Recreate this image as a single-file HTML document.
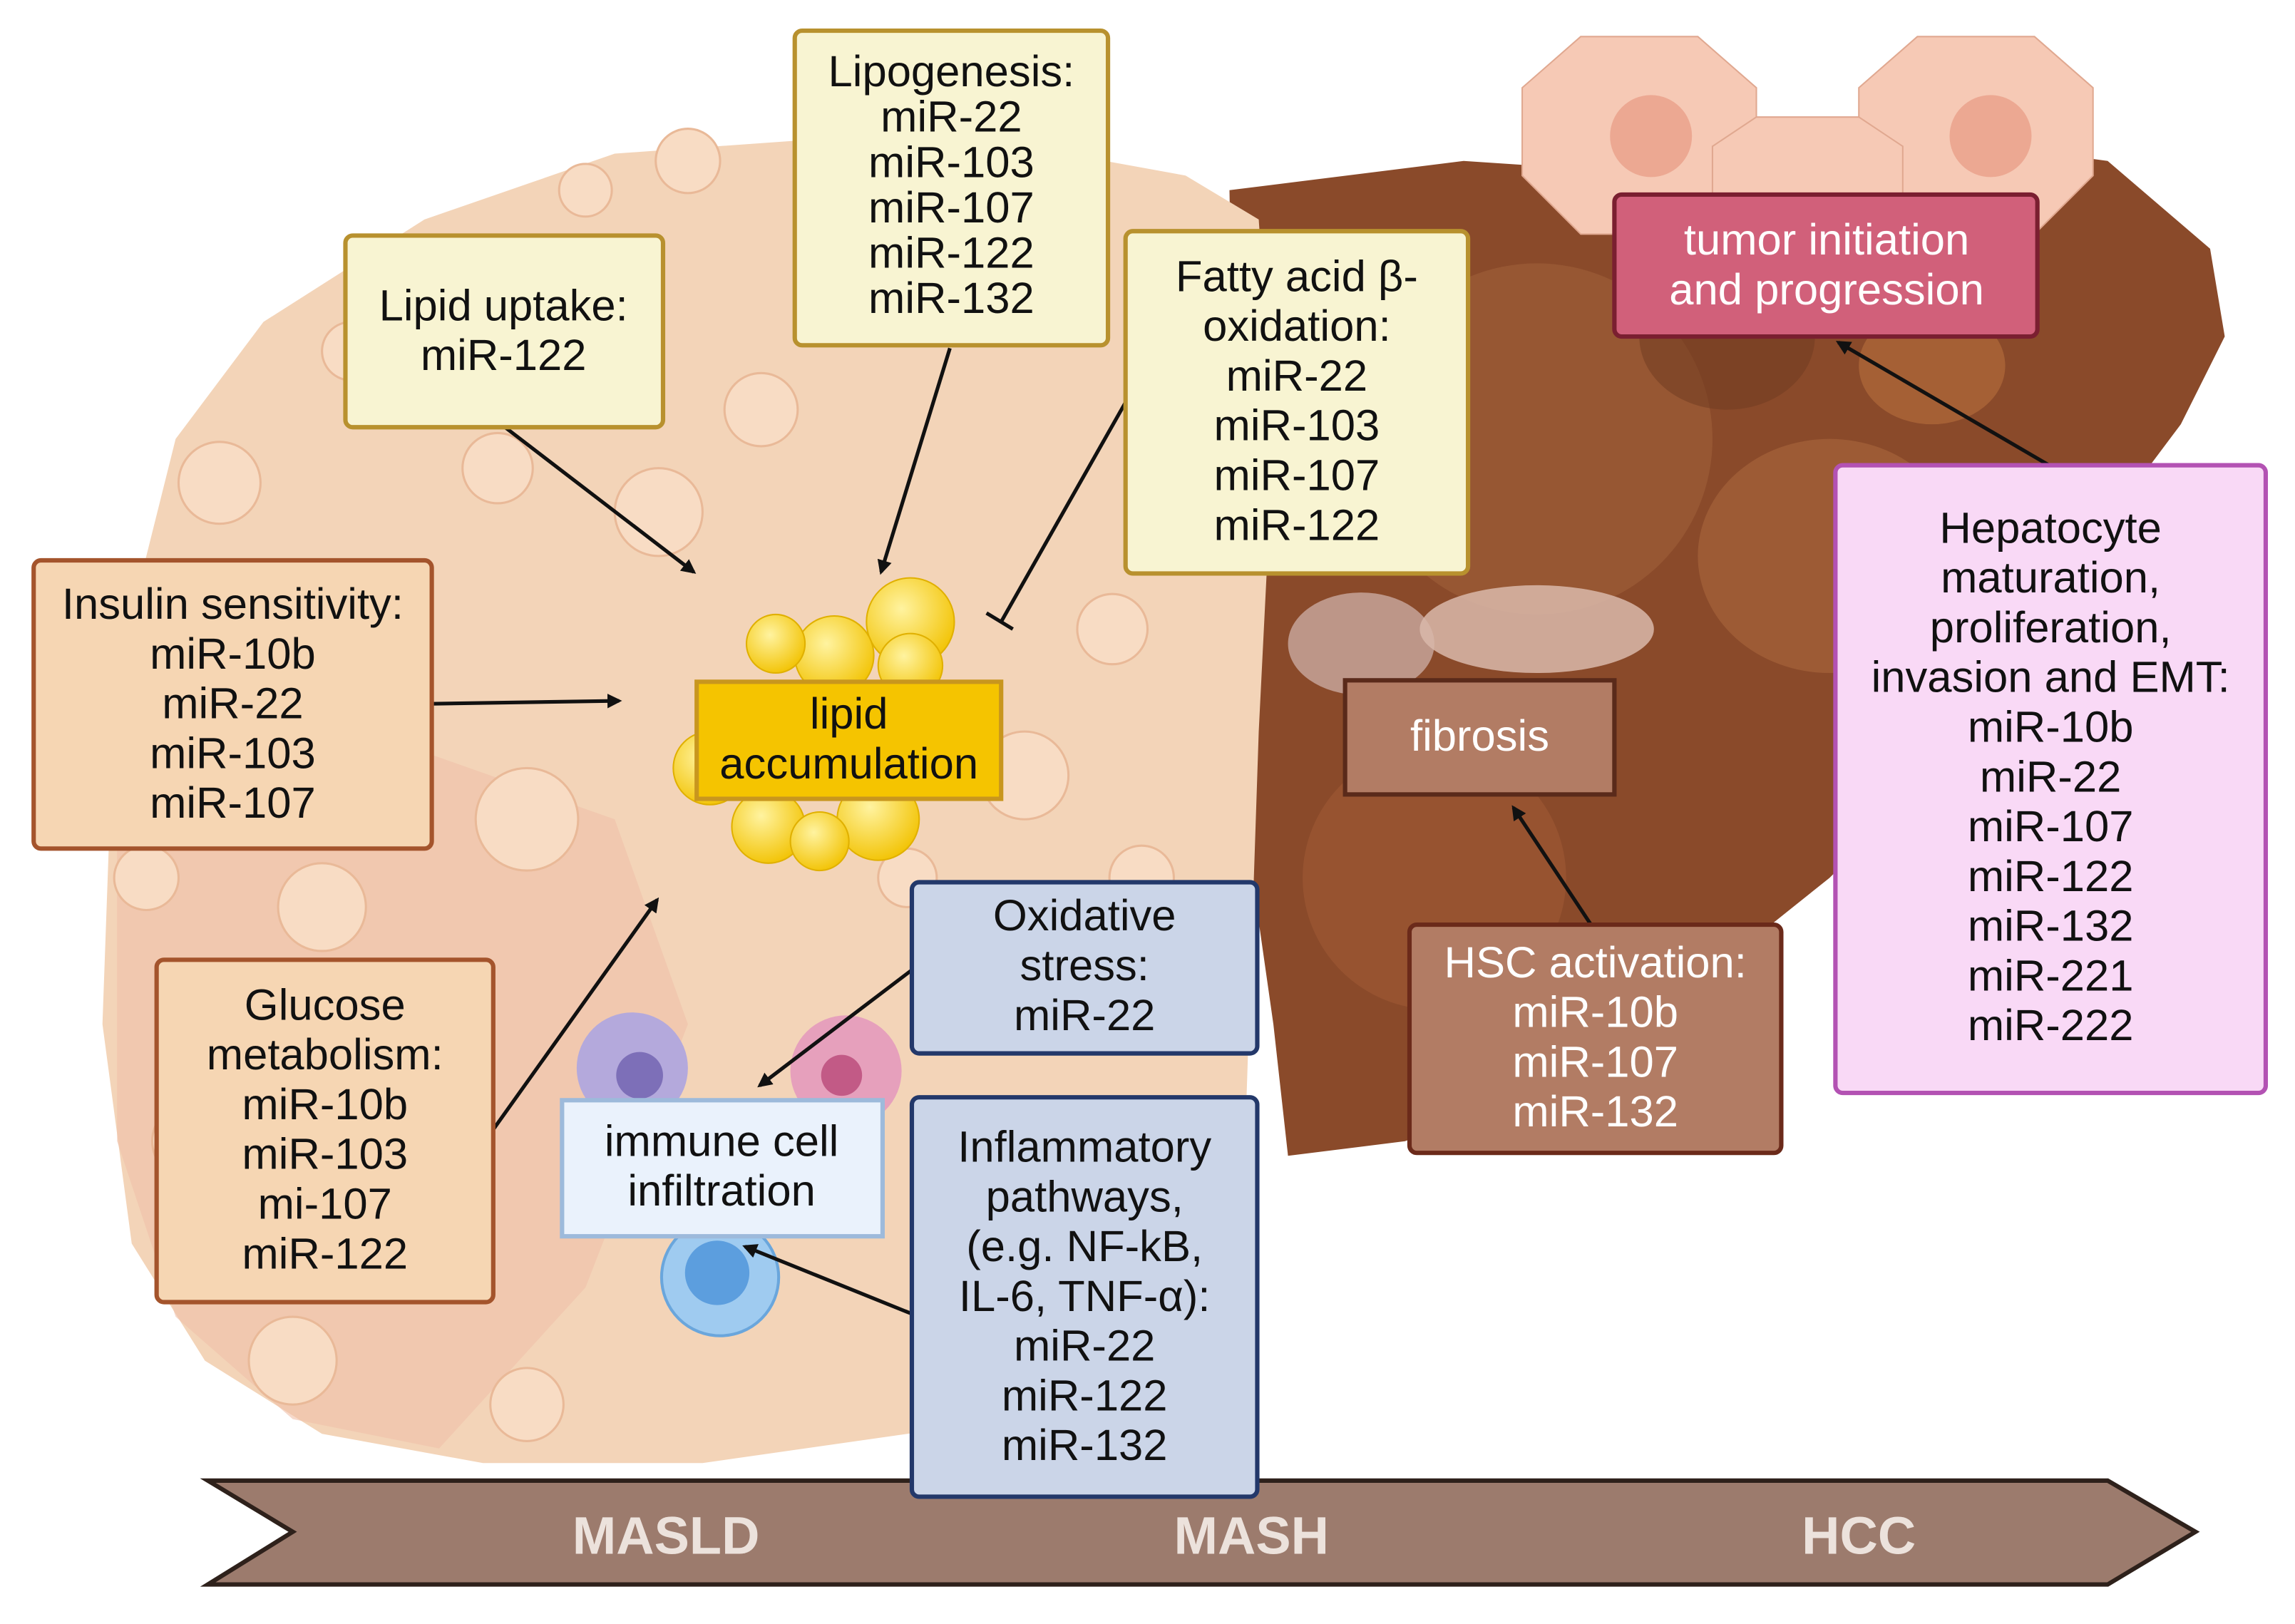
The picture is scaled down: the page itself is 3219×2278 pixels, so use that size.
<!DOCTYPE html>
<html><head><meta charset="utf-8"><style>
html,body{margin:0;padding:0;background:#fff}
svg{display:block}
text{font-family:"Liberation Sans",sans-serif}
</style></head><body>
<svg width="3219" height="2278" viewBox="0 0 1568 1110" preserveAspectRatio="none" xmlns="http://www.w3.org/2000/svg">
<defs>
<marker id="ah" markerWidth="10" markerHeight="10" refX="8" refY="5" orient="auto" markerUnits="userSpaceOnUse"><path d="M0,0 L10,5 L0,10 z" fill="#111"/></marker>
<radialGradient id="fat" cx="0.4" cy="0.35" r="0.7"><stop offset="0" stop-color="#fff3a0"/><stop offset="1" stop-color="#f2c200"/></radialGradient>
</defs>
<rect width="1568" height="1110" fill="#fff"/>
<!-- brown liver (right) -->
<path d="M840,130 L1000,110 L1150,120 L1330,95 L1440,110 L1510,170 L1520,230 L1490,290 L1460,330 L1400,420 L1330,520 L1250,600 L1150,680 L1060,740 L960,780 L880,790 L870,700 L850,560 L845,400 Z" fill="#8a4a2a"/>
<ellipse cx="1050" cy="300" rx="120" ry="120" fill="#a0603a" opacity="0.6"/>
<ellipse cx="1250" cy="380" rx="90" ry="80" fill="#b06c40" opacity="0.5"/>
<ellipse cx="980" cy="600" rx="90" ry="90" fill="#a05a36" opacity="0.6"/>
<ellipse cx="1180" cy="230" rx="60" ry="50" fill="#6e3a20" opacity="0.5"/>
<ellipse cx="1320" cy="250" rx="50" ry="40" fill="#b8703e" opacity="0.6"/>
<!-- tumor cells top -->
<path d="M1040,60 L1080,25 L1160,25 L1200,60 L1200,120 L1160,160 L1080,160 L1040,120 Z" fill="#f6c9b5" stroke="#e0a890"/>
<path d="M1270,60 L1310,25 L1390,25 L1430,60 L1430,120 L1390,160 L1310,160 L1270,120 Z" fill="#f6c9b5" stroke="#e0a890"/>
<path d="M1170,100 L1200,80 L1270,80 L1300,100 L1300,140 L1170,140 Z" fill="#f6c9b5" stroke="#e0a890"/>
<circle cx="1128" cy="93" r="28" fill="#eca892"/>
<circle cx="1360" cy="93" r="28" fill="#eca892"/>
<!-- beige liver (left) -->
<path d="M120,300 L180,220 L290,150 L420,105 L560,95 L700,100 L810,120 L860,150 L870,300 L860,500 L855,650 L850,800 L820,900 L760,960 L620,980 L480,1000 L330,1000 L220,980 L140,930 L90,850 L70,700 L75,560 L90,420 Z" fill="#f3d4b8"/>
<path d="M80,560 L250,500 L420,560 L470,700 L400,880 L300,990 L200,970 L120,900 L80,780 Z" fill="#f0bfa8" opacity="0.6"/>
<g fill="#f8dcc4" stroke="#e9b998" stroke-width="1.5">
<circle cx="150" cy="330" r="28"/><circle cx="470" cy="110" r="22"/><circle cx="400" cy="130" r="18"/>
<circle cx="340" cy="320" r="24"/><circle cx="450" cy="350" r="30"/><circle cx="520" cy="280" r="25"/>
<circle cx="220" cy="620" r="30"/><circle cx="100" cy="600" r="22"/><circle cx="360" cy="560" r="35"/>
<circle cx="700" cy="530" r="30"/><circle cx="760" cy="430" r="24"/><circle cx="200" cy="930" r="30"/>
<circle cx="130" cy="780" r="26"/><circle cx="360" cy="960" r="25"/><circle cx="800" cy="180" r="22"/>
<circle cx="240" cy="240" r="20"/><circle cx="620" cy="600" r="20"/><circle cx="780" cy="600" r="22"/>
</g>
<!-- fat droplets -->
<g fill="url(#fat)" stroke="#e0b000" stroke-width="1">
<circle cx="622" cy="425" r="30"/><circle cx="570" cy="448" r="27"/><circle cx="530" cy="440" r="20"/>
<circle cx="622" cy="455" r="22"/><circle cx="485" cy="525" r="25"/><circle cx="525" cy="565" r="25"/>
<circle cx="600" cy="560" r="28"/><circle cx="560" cy="575" r="20"/>
</g>
<!-- fibrosis cells -->
<ellipse cx="930" cy="440" rx="50" ry="35" fill="#c9a9a0" opacity="0.8"/>
<ellipse cx="1050" cy="430" rx="80" ry="30" fill="#d9b8aa" opacity="0.85"/>
<!-- immune cells -->
<circle cx="432" cy="730" r="38" fill="#b4a9dc"/><circle cx="437" cy="735" r="16" fill="#7d6fb8"/>
<circle cx="578" cy="732" r="38" fill="#e6a0bc"/><circle cx="575" cy="735" r="14" fill="#c25a86"/>
<circle cx="492" cy="873" r="40" fill="#9fcbf0" stroke="#6aa6dc" stroke-width="2"/><circle cx="490" cy="870" r="22" fill="#5c9ede"/>
<!-- bottom arrow -->
<polygon points="142,1012 1440,1012 1500,1047 1440,1083 142,1083 200,1047" fill="#9c7b6d" stroke="#2e211b" stroke-width="3"/>
<g font-weight="bold" font-size="36" fill="#ece2dc" text-anchor="middle">
<text x="455" y="1062">MASLD</text><text x="855" y="1062">MASH</text><text x="1270" y="1062">HCC</text>
</g>
<!-- connectors -->
<g stroke="#111" stroke-width="2.5" fill="none">
<line x1="345" y1="292" x2="474" y2="391" marker-end="url(#ah)"/>
<line x1="649" y1="238" x2="602" y2="391" marker-end="url(#ah)"/>
<line x1="769" y1="275" x2="684" y2="425"/>
<line x1="674" y1="419" x2="692" y2="430"/>
<line x1="295" y1="481" x2="423" y2="479" marker-end="url(#ah)"/>
<line x1="337" y1="772" x2="449" y2="615" marker-end="url(#ah)"/>
<line x1="623" y1="663" x2="519" y2="742" marker-end="url(#ah)"/>
<line x1="623" y1="898" x2="509" y2="852" marker-end="url(#ah)"/>
<line x1="1087" y1="632" x2="1034" y2="552" marker-end="url(#ah)"/>
<line x1="1400" y1="318" x2="1256" y2="234" marker-end="url(#ah)"/>
</g>
<!-- boxes -->
<g stroke-width="3">
<rect x="543" y="21" width="214" height="215" rx="5" fill="#f8f4d2" stroke="#b8912e"/>
<rect x="236" y="161" width="217" height="131" rx="5" fill="#f8f4d2" stroke="#b8912e"/>
<rect x="769" y="158" width="234" height="234" rx="5" fill="#f8f4d2" stroke="#b8912e"/>
<rect x="23" y="383" width="272" height="197" rx="5" fill="#f6d6b3" stroke="#a4542c"/>
<rect x="107" y="656" width="230" height="234" rx="5" fill="#f6d6b3" stroke="#a4542c"/>
<rect x="476" y="466" width="208" height="80" fill="#f5c400" stroke="#c8961e"/>
<rect x="623" y="603" width="236" height="117" rx="5" fill="#cbd5e8" stroke="#23386a"/>
<rect x="623" y="750" width="236" height="273" rx="5" fill="#cbd5e8" stroke="#23386a"/>
<rect x="384" y="752" width="219" height="93" fill="#eaf2fc" stroke="#9dbadb"/>
<rect x="919" y="465" width="184" height="78" fill="#b27c64" stroke="#5a2a1a"/>
<rect x="963" y="632" width="254" height="156" rx="5" fill="#b27c64" stroke="#6b2a1a"/>
<rect x="1103" y="133" width="289" height="97" rx="5" fill="#d1607a" stroke="#7a1f30"/>
<rect x="1254" y="318" width="294" height="429" rx="5" fill="#f9d9f6" stroke="#b352b3"/>
</g>
<!-- box text -->
<g font-size="30" fill="#111" text-anchor="middle">
<text x="650" y="59">Lipogenesis:</text><text x="650" y="90">miR-22</text><text x="650" y="121">miR-103</text><text x="650" y="152">miR-107</text><text x="650" y="183">miR-122</text><text x="650" y="214">miR-132</text>
<text x="344" y="219">Lipid uptake:</text><text x="344" y="253">miR-122</text>
<text x="886" y="199">Fatty acid β-</text><text x="886" y="233">oxidation:</text><text x="886" y="267">miR-22</text><text x="886" y="301">miR-103</text><text x="886" y="335">miR-107</text><text x="886" y="369">miR-122</text>
<text x="159" y="423">Insulin sensitivity:</text><text x="159" y="457">miR-10b</text><text x="159" y="491">miR-22</text><text x="159" y="525">miR-103</text><text x="159" y="559">miR-107</text>
<text x="222" y="697">Glucose</text><text x="222" y="731">metabolism:</text><text x="222" y="765">miR-10b</text><text x="222" y="799">miR-103</text><text x="222" y="833">mi-107</text><text x="222" y="867">miR-122</text>
<text x="580" y="498">lipid</text><text x="580" y="532">accumulation</text>
<text x="741" y="636">Oxidative</text><text x="741" y="670">stress:</text><text x="741" y="704">miR-22</text>
<text x="741" y="794">Inflammatory</text><text x="741" y="828">pathways,</text><text x="741" y="862">(e.g. NF-kB,</text><text x="741" y="896">IL-6, TNF-α):</text><text x="741" y="930">miR-22</text><text x="741" y="964">miR-122</text><text x="741" y="998">miR-132</text>
<text x="493" y="790">immune cell</text><text x="493" y="824">infiltration</text>
<text x="1401" y="371">Hepatocyte</text><text x="1401" y="405">maturation,</text><text x="1401" y="439">proliferation,</text><text x="1401" y="473">invasion and EMT:</text><text x="1401" y="507">miR-10b</text><text x="1401" y="541">miR-22</text><text x="1401" y="575">miR-107</text><text x="1401" y="609">miR-122</text><text x="1401" y="643">miR-132</text><text x="1401" y="677">miR-221</text><text x="1401" y="711">miR-222</text>
</g>
<g font-size="30" fill="#fff" text-anchor="middle">
<text x="1011" y="513">fibrosis</text>
<text x="1090" y="668">HSC activation:</text><text x="1090" y="702">miR-10b</text><text x="1090" y="736">miR-107</text><text x="1090" y="770">miR-132</text>
<text x="1248" y="174">tumor initiation</text><text x="1248" y="208">and progression</text>
</g>
</svg>
</body></html>
